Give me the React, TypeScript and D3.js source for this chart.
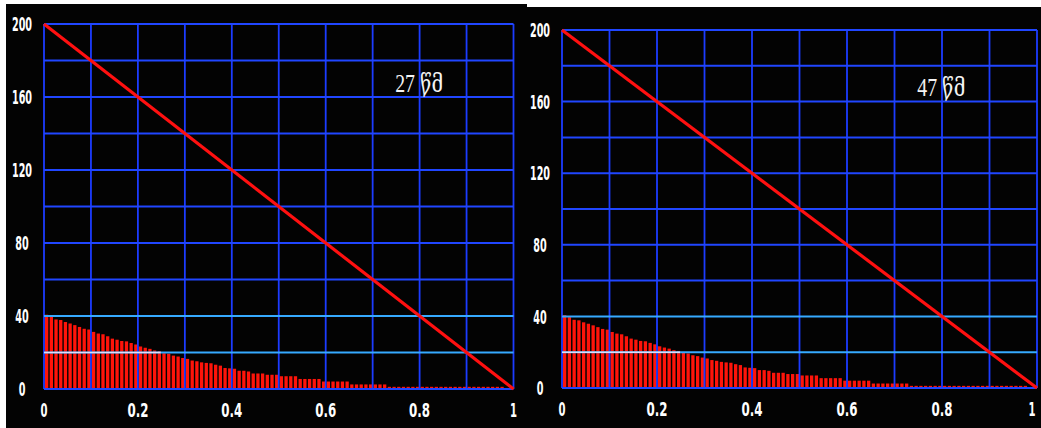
import React, {useRef, useEffect} from 'react';
import * as d3 from 'd3';

// axis ticks and grid levels
const xTicks = [0, 0.2, 0.4, 0.6, 0.8, 1];
const yTicks = [0, 40, 80, 120, 160, 200];
const xGrid = [0, 0.1, 0.2, 0.3, 0.4, 0.5, 0.6, 0.7, 0.8, 0.9, 1];
const yGrid = [0, 20, 40, 60, 80, 100, 120, 140, 160, 180, 200];
const brightLevels = [20, 40];

// the straight ramp from (0, 200) to (1, 0)
const ramp: [number, number][] = [[0, 200], [1, 0]];

// bars every 0.01 along x, heights
const barStep = 0.01;
const barHeights = [
    40.7, 39.6, 38.1, 37.8, 36.7, 35.9, 35.0, 34.0, 33.0, 32.6,
    31.3, 30.4, 30.0, 28.9, 27.6, 27.0, 26.3, 26.1, 25.2, 24.4,
    23.3, 22.6, 22.0, 21.1, 20.7, 19.6, 19.3, 18.3, 17.8, 17.0,
    16.5, 15.6, 15.2, 14.6, 14.3, 14.1, 13.3, 12.8, 11.5, 11.3,
    11.1, 10.0, 10.0, 9.6, 8.5, 8.5, 8.5, 7.8, 7.8, 7.8,
    7.0, 7.0, 7.0, 7.0, 5.5, 5.5, 5.5, 5.5, 5.5, 4.1,
    4.1, 4.1, 4.1, 4.1, 4.1, 2.5, 2.5, 2.5, 2.5, 2.5,
    2.5, 2.5, 2.5, 1.2, 1.2, 1.2, 1.2, 1.2, 1.2, 1.2,
    1.2, 1.2, 1.2, 1.2, 1.2, 1.2, 1.2, 1.2, 1.2, 1.2,
    1.2, 1.2, 1.2, 1.2, 1.2, 1.2, 1.2, 1.2,
];

// elapsed time shown on each screen, and where it sits in data units
const timeLabels = ['27 წმ', '47 წმ'];
const timeLabelX = [0.748, 0.748];
const timeLabelY = [163, 163];

const W = 1041;
const H = 428;

const panels = [
    {left: 44, right: 513.5, top: 24, bottom: 389, bgX: 6, bgY: 4, bgW: 521},
    {left: 562, right: 1037, top: 30, bottom: 388, bgX: 527, bgY: 7, bgW: 514},
];

const App: React.FC = () => {
    const ref = useRef<SVGSVGElement | null>(null);

    useEffect(() => {
        if (!ref.current) return;
        const svg = d3.select(ref.current);
        svg.selectAll('*').remove();

        svg.append('rect').attr('width', W).attr('height', H).attr('fill', '#ffffff');

        panels.forEach(p => {
            svg.append('rect')
                .attr('x', p.bgX).attr('y', p.bgY)
                .attr('width', p.bgW).attr('height', H - p.bgY)
                .attr('fill', '#030303');
        });

        panels.forEach((p, pi) => {
            const x = d3.scaleLinear().domain([0, 1]).range([p.left, p.right]);
            const y = d3.scaleLinear().domain([0, 200]).range([p.bottom, p.top]);
            const g = svg.append('g');

            g.selectAll('rect.bar')
                .data(barHeights)
                .join('rect')
                .attr('class', 'bar')
                .attr('x', (d, i) => x(i * barStep) + 1)
                .attr('width', 3.3)
                .attr('y', d => y(d))
                .attr('height', d => y(0) - y(d))
                .attr('fill', '#ff140a');

            g.selectAll('line.vgrid')
                .data(xGrid)
                .join('line')
                .attr('class', 'vgrid')
                .attr('x1', d => x(d)).attr('x2', d => x(d))
                .attr('y1', y(0)).attr('y2', y(200))
                .attr('stroke', '#1c3cff')
                .attr('stroke-width', 1.8);

            g.selectAll('line.hgrid')
                .data(yGrid)
                .join('line')
                .attr('class', 'hgrid')
                .attr('x1', x(0)).attr('x2', x(1))
                .attr('y1', d => y(d)).attr('y2', d => y(d))
                .attr('stroke', d => brightLevels.includes(d) ? '#36aaff' : '#2046ff')
                .attr('stroke-width', 2);

            // the light line glows white where it crosses the bars
            const lastTall = barHeights.reduce((acc, d, i) => d >= brightLevels[0] ? i : acc, 0);
            g.append('line')
                .attr('x1', x(0)).attr('x2', x(lastTall * barStep) + 4)
                .attr('y1', y(brightLevels[0])).attr('y2', y(brightLevels[0]))
                .attr('stroke', '#f2eaff')
                .attr('stroke-opacity', 0.85)
                .attr('stroke-width', 1.6);

            const line = d3.line<[number, number]>()
                .x(d => x(d[0]))
                .y(d => y(d[1]));
            g.append('path')
                .attr('d', line(ramp))
                .attr('fill', 'none')
                .attr('stroke', '#ff1010')
                .attr('stroke-width', 3.2);

            g.selectAll('text.ylab')
                .data(yTicks)
                .join('text')
                .attr('class', 'ylab')
                .attr('x', p.left - 22)
                .attr('y', d => y(d))
                .attr('dy', '0.36em')
                .attr('text-anchor', 'middle')
                .attr('fill', '#ffffff')
                .attr('font-family', 'DejaVu Sans, sans-serif')
                .attr('font-weight', 'bold')
                .attr('font-size', 20)
                .attr('textLength', d => String(d).length * 6.7)
                .attr('lengthAdjust', 'spacingAndGlyphs')
                .text(d => String(d));

            g.selectAll('text.xlab')
                .data(xTicks)
                .join('text')
                .attr('class', 'xlab')
                .attr('x', d => Math.min(x(d), W - 9))
                .attr('y', p.bottom + 21)
                .attr('dy', '0.36em')
                .attr('text-anchor', 'middle')
                .attr('fill', '#ffffff')
                .attr('font-family', 'DejaVu Sans, sans-serif')
                .attr('font-weight', 'bold')
                .attr('font-size', 20)
                .attr('textLength', d => String(d).length * 7)
                .attr('lengthAdjust', 'spacingAndGlyphs')
                .text(d => String(d));

            g.append('text')
                .attr('x', x(timeLabelX[pi]))
                .attr('y', y(timeLabelY[pi]))
                .attr('fill', '#f4f4f4')
                .attr('font-family', 'Liberation Serif, DejaVu Serif, serif')
                .attr('font-size', 25)
                .attr('textLength', 48)
                .attr('lengthAdjust', 'spacingAndGlyphs')
                .text(timeLabels[pi]);
        });

        return () => {
            // eslint-disable-next-line react-hooks/exhaustive-deps
            d3.select(ref.current).selectAll('*').remove();
        };
    }, []);

    return <svg ref={ref} width={W} height={H} style={{position: 'absolute', left: 0, top: 0}}></svg>;
};

export default App;
